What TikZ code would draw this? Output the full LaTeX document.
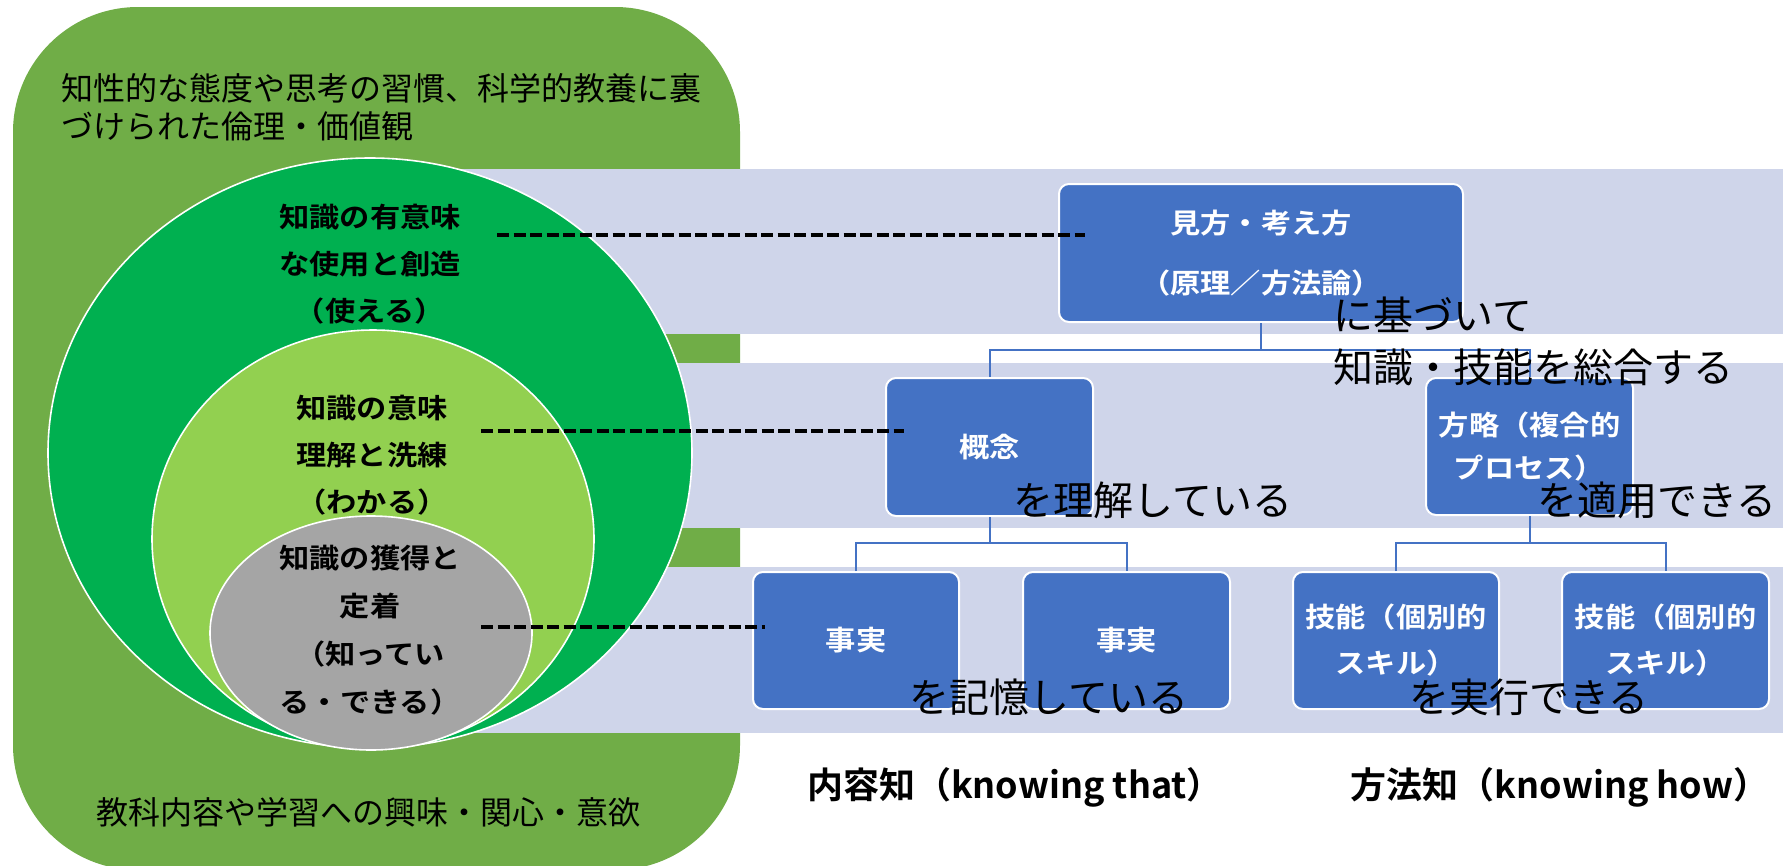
\documentclass[tikz,border=0pt]{standalone}
\usepackage{fontspec}
\newfontfamily\jp{Noto Sans CJK JP}
\newfontfamily\jpb{Noto Sans CJK JP Bold}[FakeStretch=1.1]
\newfontfamily\jpbl{Noto Sans CJK JP Bold}
\definecolor{outerg}{HTML}{70AD47}
\definecolor{dkg}{HTML}{00B050}
\definecolor{ltg}{HTML}{92D050}
\definecolor{gry}{HTML}{A5A5A5}
\definecolor{bandc}{HTML}{CFD5EA}
\definecolor{boxb}{HTML}{4472C4}
\begin{document}
\begin{tikzpicture}[x=1pt,y=-1pt,
  blk/.style={draw=white, line width=2pt, fill=boxb, rounded corners=10pt, text=white, inner sep=0pt, align=center, font=\jpb\fontsize{27.5}{46}\selectfont},
  ring/.style={draw=white, line width=1.6pt},
  ctext/.style={align=center, inner sep=0pt, font=\jpb\fontsize{27.5}{47}\selectfont},
  conn/.style={draw=boxb, line width=2pt},
  dash line/.style={black, line width=4pt, dash pattern=on 12pt off 4.5pt},
  over/.style={anchor=west, inner sep=0pt, font=\jp\fontsize{40}{40}\selectfont},
  lbl/.style={inner sep=0pt, font=\jpbl\fontsize{36}{36}\selectfont}
]
\useasboundingbox (0,0) rectangle (1783,865);
% outer rounded area
\fill[outerg, rounded corners=125pt] (13,7) rectangle (740,870);
% bands
\fill[bandc] (370,169) rectangle (1783,334);
\fill[bandc] (370,363) rectangle (1783,528);
\fill[bandc] (370,567) rectangle (1783,733);
% ellipses
\filldraw[fill=dkg, ring] (370,453) ellipse [x radius=322pt, y radius=295pt];
\filldraw[fill=ltg, ring] (373,539) ellipse [x radius=221pt, y radius=209pt];
\filldraw[fill=gry, ring] (371,633) ellipse [x radius=161pt, y radius=117pt];
% texts in the green area
\node[anchor=west, inner sep=0pt, align=left, font=\jp\fontsize{32}{38}\selectfont] (attitude) at (61,107) {知性的な態度や思考の習慣、科学的教養に裏\\づけられた倫理・価値観};
\node[inner sep=0pt, font=\jp\fontsize{32}{38}\selectfont] (interest) at (368,812) {教科内容や学習への興味・関心・意欲};
\node[ctext] (use) at (370,264) {知識の有意味\\な使用と創造\\（使える）};
\node[ctext] (understand) at (372,455) {知識の意味\\理解と洗練\\（わかる）};
\node[ctext, font=\jpb\fontsize{27.5}{48}\selectfont] (know) at (370,630) {知識の獲得と\\定着\\（知ってい\\る・できる）};
% connectors
\coordinate (j1) at (1261,350);
\path (989.5,516) ++(0,27) coordinate (j2);
\path (1529.5,515) ++(0,28) coordinate (j3);
% boxes
\node[blk, minimum width=404pt, minimum height=138pt, font=\jpb\fontsize{27.5}{60}\selectfont] (view) at (1261,253) {見方・考え方\\（原理／方法論）};
\node[blk, minimum width=207pt, minimum height=138pt] (concept) at (989.5,447) {概念};
\node[blk, minimum width=207pt, minimum height=137pt, font=\jpb\fontsize{27.5}{43}\selectfont] (strategy) at (1529.5,446.5) {方略（複合的\\プロセス）};
\node[blk, minimum width=206pt, minimum height=137pt] (fact1) at (856,640.5) {事実};
\node[blk, minimum width=207pt, minimum height=137pt] (fact2) at (1126.5,640.5) {事実};
\node[blk, minimum width=206pt, minimum height=137pt] (skill1) at (1396,640.5) {技能（個別的\\スキル）};
\node[blk, minimum width=207pt, minimum height=137pt] (skill2) at (1665.5,640.5) {技能（個別的\\スキル）};
\draw[conn] (view.south) -- (j1);
\draw[conn] (concept.north) |- (j1) -| (strategy.north);
\draw[conn] (concept.south) -- (j2);
\draw[conn] (fact1.north) |- (j2) -| (fact2.north);
\draw[conn] (strategy.south) -- (j3);
\draw[conn] (skill1.north) |- (j3) -| (skill2.north);
% dashed lines
\coordinate (d1a) at (497,235); \coordinate (d1b) at (1085,235);
\coordinate (d2a) at (481,431); \coordinate (d2b) at (904,431);
\coordinate (d3a) at (481,627); \coordinate (d3b) at (765,627);
\draw[dash line] (d1a) -- (d1b);
\draw[dash line] (d2a) -- (d2b);
\draw[dash line] (d3a) -- (d3b);
% overlay texts
\node[over] (based) at (1333,315) {に基づいて};
\node[over] (integrate) at (1333,367) {知識・技能を総合する};
\node[over] (grasp) at (1013,500) {を理解している};
\node[over] (apply) at (1537,500) {を適用できる};
\node[over] (remember) at (909,697) {を記憶している};
\node[over] (perform) at (1409,697) {を実行できる};
% bottom labels
\node[lbl] (that) at (1015,787) {内容知（knowing that）};
\node[lbl] (how) at (1560,787) {方法知（knowing how）};
\end{tikzpicture}
\end{document}
